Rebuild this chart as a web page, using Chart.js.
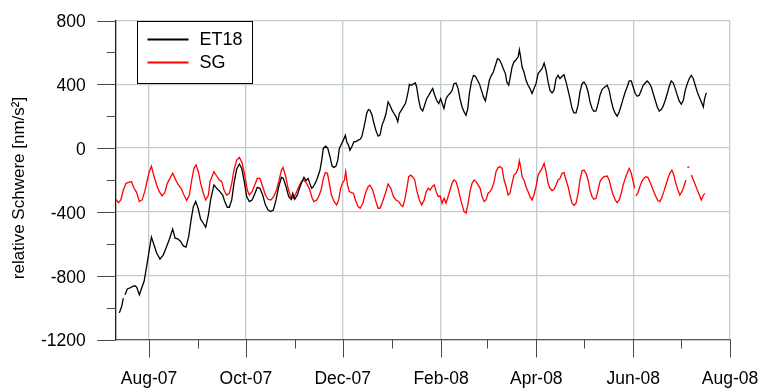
<!DOCTYPE html>
<html>
<head>
<meta charset="utf-8">
<script src="https://cdn.jsdelivr.net/npm/chart.js@4.4.0/dist/chart.umd.min.js"></script>
<style>
  html, body { margin: 0; padding: 0; background: #ffffff; }
  #wrap { width: 759px; height: 388px; }
</style>
</head>
<body>
<div id="wrap"><canvas id="c" width="759" height="388"></canvas></div>
<script>
// Time axis: days counted from 1 Aug 2007.
const et18Days = [
  -18.7, -17.2, -16.2, -15.6, -15.1, -13.7, -12.0, -10.3, -8.8, -7.8, -6.1, -4.6, -3.1, -1.5, 0, 1.5, 3.1, 4.8, 6.9, 9.0,
  11.1, 12.8, 14.9, 16.4, 18.1, 19.9, 21.6, 23.3, 25.0, 26.5, 27.9, 29.4, 30.9, 32.5, 34.2, 35.7, 37.4, 38.8,
  40.9, 42.6, 44.7, 46.4, 47.7, 49.3, 50.6, 52.1, 53.5, 55.2, 56.9, 58.4, 60.0, 61.5, 63.2, 64.9, 66.6, 68.2, 69.9,
  71.6, 73.3, 75.0, 76.7, 78.3, 80.0, 81.7, 83.4, 84.6, 86.3, 88.0, 89.6, 90.5, 91.8, 93.4, 95.1, 96.4, 97.6, 98.9, 100.2,
  101.4, 102.5, 103.5, 104.6, 105.6, 106.7, 107.7, 108.8, 109.8, 111.3, 112.6, 114.0, 115.3, 116.5, 117.8, 118.9, 119.9,
  121.4, 122.4, 123.7, 124.5, 125.6, 126.6, 127.9, 129.1, 130.4, 131.7, 132.9, 134.0, 135.0, 136.1, 137.1, 138.2, 139.2,
  140.5, 141.7, 143.0, 144.3, 145.5, 146.8, 148.0, 149.3, 150.6, 151.8, 153.1, 154.3, 155.6, 156.7, 157.7, 159.0, 160.2,
  161.5, 162.3, 163.2, 164.0, 165.5, 166.1, 167.8, 168.6, 169.9, 171.1, 172.4, 173.6, 174.9, 176.2, 177.4, 178.7, 180.0,
  181.2, 182.5, 183.7, 184.6, 185.8, 187.1, 188.4, 189.6, 190.9, 192.1, 193.4, 194.7, 195.9, 197.2, 198.5, 199.7, 200.8,
  201.8, 203.1, 204.4, 205.6, 206.9, 208.1, 209.4, 210.7, 211.9, 213.2, 214.4, 215.7, 216.9, 218.2, 219.5, 220.7, 222.0,
  223.2, 224.5, 225.4, 226.6, 227.6, 228.7, 229.9, 231.2, 232.5, 233.3, 234.1, 235.0, 236.2, 237.5, 238.8, 240.0, 241.3,
  242.5, 243.8, 245.1, 246.3, 247.6, 248.9, 250.1, 251.4, 252.6, 253.9, 255.1, 256.4, 257.7, 258.9, 260.2, 261.4, 262.7,
  264.0, 265.2, 266.5, 267.7, 269.0, 270.3, 271.5, 272.8, 274.0, 275.3, 276.6, 277.8, 279.1, 280.3, 281.6, 282.9, 284.1,
  285.4, 286.6, 288.6, 289.9, 291.1, 292.4, 293.7, 294.9, 296.2, 297.5, 298.7, 300.0, 301.2, 302.5, 303.8, 305.0, 306.3,
  307.5, 308.8, 310.1, 311.3, 312.6, 313.8, 315.1, 316.4, 317.6, 318.9, 320.2, 321.4, 322.7, 323.9, 325.2, 326.5, 327.7,
  329.0, 330.3, 331.5, 332.8, 334.0, 335.3, 336.6, 337.8, 339.1, 340.3, 341.6, 342.9, 344.1, 345.4, 346.6, 347.9, 349.2,
  350.0, 351.1
];
const et18Values = [
  -1033, -992, -940, null, -919, -883, -877, -867, -863, -871, -919, -877, -835, -742, -648, -558, -606, -658, -696, -669,
  -617, -571, -508, -565, -569, -585, -613, -621, -554, -450, -367, -335, -377, -446, -471, -496, -419, -325,
  -231, -252, -273, -294, -335, -371, -371, -325, -221, -133, -100, -127, -210, -304, -335, -325, -288, -246, -252,
  -294, -356, -388, -398, -388, -325, -242, -183, -190, -242, -304, -321, -283, -321, -294, -242, -210, -183, -204, -190,
  -225, -252, -242, -221, -200, -169, -138, -75, -2, 12, -2, -54, -113, -121, -113, -75, -2,
  29, 50, 81, 40, 19, -13, 12, 40, 40, 50, 54, 71, 113, 165, 217, 242, 238,
  206, 154, 108, 75, 81, 144, 175, 217, 290, 269, 238, 217, 196, 165, 217, 238, 258,
  279, 310, 352, 400, 394, 400, 408, 383, 300, 248, 233, 269, 310, 331, 352, 373, 331,
  300, 279, 310, 283, 248, 310, 331, 342, 362, 404, 408, 373, 310, 258, 227, 206, 248,
  342, 415, 456, 450, 425, 404, 362, 321, 296, 362, 425, 456, 477, 519, 560, 554, 529,
  498, 467, 415, 394, 446, 508, 540, 554, 571, 617, 571, 508, 477, 425, 394, 373, 342,
  373, 404, 467, 483, 498, 533, 488, 415, 362, 346, 362, 435, 456, 435, 450, 460, 415,
  362, 310, 248, 221, 221, 269, 352, 404, 415, 394, 352, 290, 248, 231, 233, 279, 331,
  367, 379, 394, 362, 300, 248, 217, 200, 227, 269, 310, 352, 383, 421, 421, 383, 342,
  325, 331, 362, 394, 408, 421, 408, 383, 342, 300, 258, 233, 242, 263, 300, 342, 388,
  421, 408, 373, 331, 296, 275, 300, 362, 404, 435, 456, 435, 394, 352, 321, 290, 258,
  310, 346
];

const sgDays = [
  -20.8, -19.3, -17.8, -16.2, -14.5, -12.8, -11.1, -9.4, -7.8, -6.1, -4.4, -2.7, -1.1, 0.2, 1.5, 2.9, 4.8, 6.5, 8.2, 9.9,
  11.5, 13.2, 14.9, 16.6, 18.5, 20.2, 21.8, 23.7, 25.4, 26.9, 28.3, 29.6, 31.1, 32.5, 34.2, 35.7, 37.4,
  38.4, 40.9, 42.6, 44.3, 45.8, 47.2, 48.9, 50.6, 52.1, 53.5, 55.2, 56.9, 58.6, 60.3, 61.9, 63.2, 64.9, 66.6, 68.2,
  69.9, 71.6, 73.3, 75.0, 76.7, 78.3, 80.0, 81.7, 83.4, 84.4, 85.9, 87.6, 89.2, 90.9, 92.6, 94.3, 96.0, 97.6, 99.3,
  101.2, 102.6, 103.9, 105.6, 106.9, 108.4, 109.8, 111.1, 112.4, 113.6, 114.9, 116.5, 118.2, 119.5, 120.7, 122.0, 123.1,
  123.9, 125.0, 126.2, 127.5, 128.8, 130.0, 131.7, 133.0, 134.7, 136.3, 138.0, 139.2, 140.9, 142.6, 144.3, 145.5, 147.2,
  148.9, 150.6, 152.3, 154.0, 155.6, 157.3, 158.6, 159.9, 161.1, 162.4, 163.6, 164.9, 166.1, 167.4, 168.6, 170.3, 171.8,
  173.3, 174.6, 175.9, 177.1, 178.4, 179.7, 180.9, 182.2, 183.4, 184.6, 185.9, 187.1, 188.4, 189.6, 190.9, 192.1, 193.4,
  194.7, 195.9, 197.2, 198.5, 199.7, 201.0, 202.2, 203.5, 204.8, 206.0, 207.3, 208.6, 209.8, 211.1, 212.3, 213.6, 214.8,
  216.1, 217.4, 218.6, 219.9, 221.2, 222.4, 223.7, 225.0, 226.2, 227.4, 228.7, 229.9, 231.2, 232.5, 233.3, 234.1, 235.0,
  236.2, 237.5, 238.8, 240.0, 241.3, 242.5, 243.8, 245.1, 246.3, 247.6, 248.9, 250.1, 251.4, 252.6, 253.9, 255.1, 256.4,
  257.7, 258.9, 260.2, 261.4, 262.7, 264.0, 265.2, 266.5, 267.7, 269.0, 270.3, 271.5, 272.8, 274.0, 275.3, 276.6, 277.8,
  279.1, 280.3, 281.6, 282.9, 284.1, 285.4, 286.6, 288.6, 289.9, 291.1, 292.4, 293.7, 294.9, 296.2, 297.5, 298.7, 300.0,
  301.2, 302.5, 303.8, 305.0, 305.9, 306.3, 306.7, 307.9, 309.2, 310.4, 311.7, 313.0, 314.2, 315.5, 316.8, 318.0, 319.3,
  320.5, 321.8, 323.1, 324.3, 325.6, 326.9, 328.1, 329.4, 330.6, 331.9, 333.2, 334.4, 335.7, 336.9, 338.2, 338.6, 339.1,
  340.4, 341.0, 341.7, 342.9, 344.2, 345.4, 346.7, 347.9, 349.0, 350.1
];
const sgValues = [
  -321, -342, -325, -263, -221, -215, -210, -252, -279, -335, -325, -273, -200, -148, -113, -169, -231, -273, -300, -279,
  -221, -190, -158, -196, -231, -252, -290, -329, -294, -200, -127, -106, -148, -221, -283, -325, -294,
  -210, -148, -175, -200, -210, -263, -294, -283, -221, -138, -75, -58, -92, -169, -263, -294, -273, -231, -190,
  -190, -242, -294, -321, -325, -308, -273, -210, -138, -121, -169, -252, -304, -315, -283, -242, -210, -200, -221,
  -260, -310, -335, -325, -304, -263, -190, -154, -158, -221, -294, -335, -356, -325, -252, -217, -200,
  -148, -231, -273, -279, -283, -325, -367, -377, -346, -283, -242, -233, -263, -325, -377, -377, -335,
  -283, -225, -252, -304, -325, -335, -356, -367, -325, -252, -179, -169, -181, -200, -263, -325, -356,
  -325, -273, -252, -263, -242, -231, -273, -304, -300, -346, -315, -346, -304, -263, -221, -200, -210,
  -252, -304, -356, -398, -408, -346, -273, -221, -200, -210, -231, -252, -304, -335, -325, -283, -273,
  -252, -210, -148, -121, -117, -127, -200, -242, -294, -283, -221, -169, -158, -127, -79, -117, -179,
  -200, -242, -273, -304, -325, -294, -242, -169, -148, -127, -96, -148, -221, -252, -267, -258, -231,
  -200, -190, -158, -154, -200, -242, -294, -346, -360, -346, -283, -200, -142, -138, -158, -200, -263,
  -304, -321, -315, -263, -210, -190, -179, -175, -200, -252, -294, -325, -342, -325, -283, -231, -190,
  -158, -127, -158, -210, -252, null, -300, -283, -242, -210, -190, -179, -183, -210, -242, -273, -304,
  -329, -335, -308, -273, -231, -190, -158, -138, -169, -221, -263, -294, -273, -242, -200, null, -121,
  -117, null, -169, -200, -231, -263, -294, -325, -300, -283
];

const xTickDays = [0, 61, 122, 184, 244, 305, 366];
const xTickLabels = ['Aug-07', 'Oct-07', 'Dec-07', 'Feb-08', 'Apr-08', 'Jun-08', 'Aug-08'];
const xMinorDays = [31, 92, 153, 213, 274, 335];
const yTicks = [-1200, -800, -400, 0, 400, 800];
const yMinorTicks = [-1000, -600, -200, 200, 600];

const seriesNames = ['ET18', 'SG'];
const seriesColors = ['#000000', '#ff0000'];
const yAxisTitle = 'relative Schwere [nm/s²]';

const FONT = '"Liberation Sans", Arial, sans-serif';
const toPoints = (days, vals) => days.map((d, i) => ({ x: d, y: vals[i] }));

// Outward tick marks, long at labelled values and short in between.
const tickMarks = {
  id: 'tickMarks',
  afterDraw(chart) {
    const { ctx, chartArea: a } = chart;
    const xs = chart.scales.x, ys = chart.scales.y;
    ctx.save();
    ctx.strokeStyle = '#4a4a4a';
    ctx.lineWidth = 1;
    const down = (v, len) => {
      const px = Math.round(xs.getPixelForValue(v)) + 0.5;
      ctx.beginPath(); ctx.moveTo(px, a.bottom); ctx.lineTo(px, a.bottom + len); ctx.stroke();
    };
    const left = (v, len) => {
      const py = Math.round(ys.getPixelForValue(v)) + 0.5;
      ctx.beginPath(); ctx.moveTo(a.left, py); ctx.lineTo(a.left - len, py); ctx.stroke();
    };
    xTickDays.forEach(v => down(v, 18));
    xMinorDays.forEach(v => down(v, 9));
    yTicks.forEach(v => left(v, 18.5));
    yMinorTicks.forEach(v => left(v, 9));
    ctx.restore();
  }
};

// Vertical axis title, set a little below the middle of the plot.
const axisTitle = {
  id: 'axisTitle',
  afterDraw(chart) {
    const { ctx, chartArea: a } = chart;
    ctx.save();
    ctx.translate(19, (a.top + a.bottom) / 2 + 8);
    ctx.rotate(-Math.PI / 2);
    ctx.font = '17px ' + FONT;
    ctx.fillStyle = '#000000';
    ctx.textAlign = 'center';
    ctx.textBaseline = 'middle';
    ctx.fillText(yAxisTitle, 0, 0);
    ctx.restore();
  }
};

// Framed legend in the upper left corner of the plot.
const boxLegend = {
  id: 'boxLegend',
  afterDraw(chart) {
    const { ctx, chartArea: a } = chart;
    const bx = Math.round(a.left + 21) + 0.5, by = Math.round(a.top) + 0.5;
    const bw = 115, bh = 62;
    ctx.save();
    ctx.fillStyle = '#ffffff';
    ctx.fillRect(bx, by, bw, bh);
    ctx.strokeStyle = '#000000';
    ctx.lineWidth = 1;
    ctx.strokeRect(bx, by, bw, bh);
    ctx.font = '18px ' + FONT;
    ctx.textBaseline = 'middle';
    ctx.textAlign = 'left';
    chart.data.datasets.forEach((ds, i) => {
      const y = by + 18 + i * 23;
      ctx.strokeStyle = ds.borderColor;
      ctx.lineWidth = 2;
      ctx.beginPath(); ctx.moveTo(bx + 10, y); ctx.lineTo(bx + 51, y); ctx.stroke();
      ctx.fillStyle = '#000000';
      ctx.fillText(ds.label, bx + 62, y + 1);
    });
    ctx.restore();
  }
};

new Chart(document.getElementById('c'), {
  type: 'line',
  data: {
    datasets: [
      { label: seriesNames[0], data: toPoints(et18Days, et18Values), borderColor: seriesColors[0] },
      { label: seriesNames[1], data: toPoints(sgDays, sgValues), borderColor: seriesColors[1] }
    ]
  },
  options: {
    responsive: false,
    devicePixelRatio: 1,
    animation: false,
    parsing: false,
    spanGaps: false,
    elements: {
      line: { borderWidth: 1.3, tension: 0, fill: false },
      point: { radius: 0, hoverRadius: 0 }
    },
    layout: { padding: { left: 0, right: 29, top: 20.5, bottom: 0 } },
    plugins: { legend: { display: false }, tooltip: { enabled: false } },
    scales: {
      x: {
        type: 'linear',
        min: -21,
        max: 366,
        afterBuildTicks: s => { s.ticks = xTickDays.map(v => ({ value: v })); },
        afterFit: s => { s.height = 48.5; s.paddingLeft = 0; s.paddingRight = 0; },
        grid: { color: '#c3cdcd', lineWidth: 1.3, drawTicks: false },
        border: { color: '#5a5a5a', width: 1.3 },
        ticks: {
          autoSkip: false,
          maxRotation: 0,
          padding: 29,
          color: '#000000',
          font: { family: FONT, size: 17.5 },
          callback: v => { const i = xTickDays.indexOf(v); return i >= 0 ? xTickLabels[i] : ''; }
        }
      },
      y: {
        type: 'linear',
        min: -1200,
        max: 800,
        afterBuildTicks: s => { s.ticks = yTicks.map(v => ({ value: v })); },
        afterFit: s => { s.width = 115.7; s.paddingTop = 0; s.paddingBottom = 0; },
        grid: { color: '#c3cdcd', lineWidth: 1.3, drawTicks: false },
        border: { color: '#1a1a1a', width: 1.3 },
        ticks: {
          padding: 30,
          labelOffset: 2,
          color: '#000000',
          font: { family: FONT, size: 17.5 },
          callback: v => String(v)
        }
      }
    }
  },
  plugins: [tickMarks, axisTitle, boxLegend]
});
</script>
</body>
</html>
